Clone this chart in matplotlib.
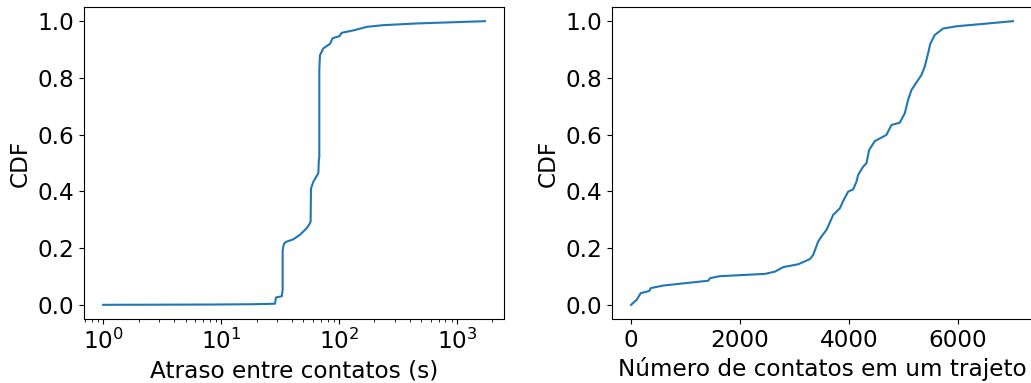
import numpy as np
import matplotlib.pyplot as plt

# Atraso entre contatos (s) -> CDF
atraso = [1, 3, 8, 17.6, 24, 28.7, 29.2, 32.7, 33.3, 33.3, 33.7, 34.4, 35.6,
          41.0, 46.7, 53.2, 56.1, 57.5, 57.9, 60.6, 66.8, 67.5, 68.1, 68.1,
          69.0, 73.6, 83.9, 88.4, 100.8, 105.4, 134, 172, 238, 455, 1727]
cdf_atraso = [0.0, 0.0005, 0.001, 0.002, 0.003, 0.004, 0.026, 0.03, 0.053,
              0.19, 0.205, 0.217, 0.222, 0.231, 0.247, 0.270, 0.284, 0.293,
              0.41, 0.434, 0.464, 0.51, 0.52, 0.827, 0.88, 0.904, 0.92, 0.94,
              0.947, 0.959, 0.968, 0.98, 0.986, 0.992, 1.0]

# Número de contatos em um trajeto -> CDF
contatos = [0, 104, 177, 336, 361, 593, 1419, 1450, 1633, 2459, 2642, 2795,
            3070, 3284, 3346, 3437, 3498, 3590, 3713, 3835, 3896, 3988, 4080,
            4141, 4171, 4263, 4324, 4373, 4477, 4691, 4783, 4936, 5028, 5089,
            5150, 5211, 5333, 5394, 5456, 5498, 5578, 5731, 5976, 7015]
cdf_contatos = [0.0, 0.018, 0.041, 0.049, 0.059, 0.068, 0.085, 0.094, 0.101,
                0.109, 0.117, 0.133, 0.143, 0.161, 0.176, 0.223, 0.241, 0.264,
                0.317, 0.340, 0.366, 0.399, 0.407, 0.434, 0.458, 0.487, 0.499,
                0.546, 0.577, 0.599, 0.634, 0.642, 0.675, 0.722, 0.757, 0.775,
                0.810, 0.839, 0.886, 0.921, 0.951, 0.974, 0.982, 1.0]

plt.rcParams['font.size'] = 16.7

fig = plt.figure(figsize=(10.31, 3.83), dpi=100)
ax1 = fig.add_axes([84 / 1031, 64 / 383, 420 / 1031, 312 / 383])
ax2 = fig.add_axes([612 / 1031, 64 / 383, 420 / 1031, 312 / 383])

ax1.plot(atraso, cdf_atraso)
ax1.set_xscale('log')
ax1.set_xlabel('Atraso entre contatos (s)')
ax1.set_ylabel('CDF')

ax2.plot(contatos, cdf_contatos)
ax2.set_xlabel('Número de contatos em um trajeto')
ax2.set_ylabel('CDF')

for ax in (ax1, ax2):
    ax.set_yticks([0.0, 0.2, 0.4, 0.6, 0.8, 1.0])

fig.savefig('out.png', dpi=100)
